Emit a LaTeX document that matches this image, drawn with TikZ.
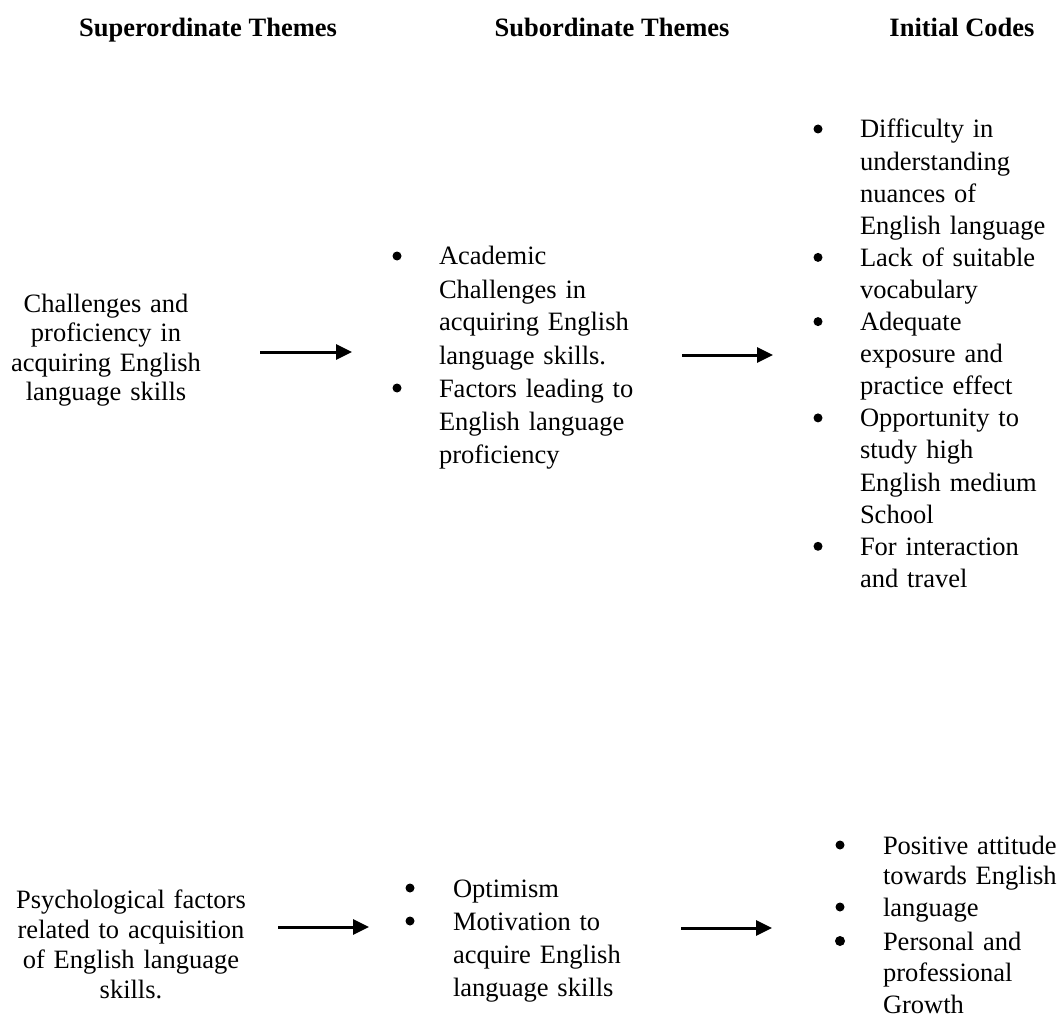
\documentclass[tikz,border=0pt]{standalone}
\usepackage{fontspec}
\setmainfont{Liberation Serif}
\usetikzlibrary{arrows.meta}
\begin{document}
\begin{tikzpicture}[x=1pt,y=-1pt,
  hdr/.style={inner sep=0pt, outer sep=0pt, anchor=base, font=\bfseries\fontsize{26.5}{30}\selectfont},
  ctr/.style={inner sep=0pt, outer sep=0pt, anchor=base, align=center},
  lst/.style={inner sep=0pt, outer sep=0pt, anchor=base west, align=left, text width=199pt},
  bul/.style={circle, fill=black, inner sep=0pt, minimum size=9pt},
  bigbul/.style={circle, fill=black, inner sep=0pt, minimum size=10pt},
  flow/.style={line width=3pt, -{Triangle[length=16pt,width=15pt]}}
]
\useasboundingbox (0,0) rectangle (1059,1024);
\fill[white] (0,0) rectangle (1059,1024);

% headers
\node[hdr] (h1) at (208,37) {Superordinate Themes};
\node[hdr] (h2) at (612,37) {Subordinate Themes};
\node[hdr] (h3) at (962,37) {Initial Codes};

% ---------- top row ----------
\node[ctr, text width=230pt, font=\fontsize{26.5}{29.5}\selectfont] (sup1) at (106,312)
  {Challenges and\\ proficiency in\\ acquiring English\\ language skills};

\node[lst, font=\fontsize{26.5}{33}\selectfont] (sub1) at (439,265)
  {Academic\\ Challenges in\\ acquiring English\\ language skills.\\ Factors leading to\\ English language\\ proficiency};
\node[bul] (sb1) at (397,256) {};
\node[bul] (sb2) at (397,388) {};

\node[lst, font=\fontsize{26.5}{32.1}\selectfont] (code1) at (860,138)
  {Difficulty in\\ understanding\\ nuances of\\ English language\\ Lack of suitable\\ vocabulary\\ Adequate\\ exposure and\\ practice effect\\ Opportunity to\\ study high\\ English medium\\ School\\ For interaction\\ and travel};
\node[bul] (cb1) at (818,129) {};
\node[bul] (cb2) at (818,257.4) {};
\node[bul] (cb3) at (818,321.6) {};
\node[bul] (cb4) at (818,417.9) {};
\node[bul] (cb5) at (818,546.3) {};

\coordinate (a1s) at (260,352);
\coordinate (a1e) at (352,352);
\coordinate (a2s) at (682,355);
\coordinate (a2e) at (773,355);
\draw[flow] (a1s) -- (a1e);
\draw[flow] (a2s) -- (a2e);

% ---------- bottom row ----------
\node[ctr, text width=240pt, font=\fontsize{26.5}{30}\selectfont] (sup2) at (131,908)
  {Psychological factors\\ related to acquisition\\ of English language\\ skills.};

\node[lst, font=\fontsize{26.5}{33}\selectfont] (sub2) at (453,897)
  {Optimism\\ Motivation to\\ acquire English\\ language skills};
\node[bul] (sb3) at (410,888) {};
\node[bul] (sb4) at (410,921) {};

\node[lst, font=\fontsize{26.5}{30}\selectfont] (code2) at (883,854)
  {Positive attitude\\ towards English};
\node[lst, font=\fontsize{26.5}{30}\selectfont] (code3) at (883,916)
  {language};
\node[lst, font=\fontsize{26.5}{31.5}\selectfont] (code4) at (883,950)
  {Personal and\\ professional\\ Growth};
\node[bul] (cb6) at (840,845) {};
\node[bul] (cb7) at (840,907) {};
\node[bigbul] (cb8) at (840,941) {};

\coordinate (a3s) at (278,927);
\coordinate (a3e) at (369,927);
\coordinate (a4s) at (681,928);
\coordinate (a4e) at (772,928);
\draw[flow] (a3s) -- (a3e);
\draw[flow] (a4s) -- (a4e);
\end{tikzpicture}
\end{document}
